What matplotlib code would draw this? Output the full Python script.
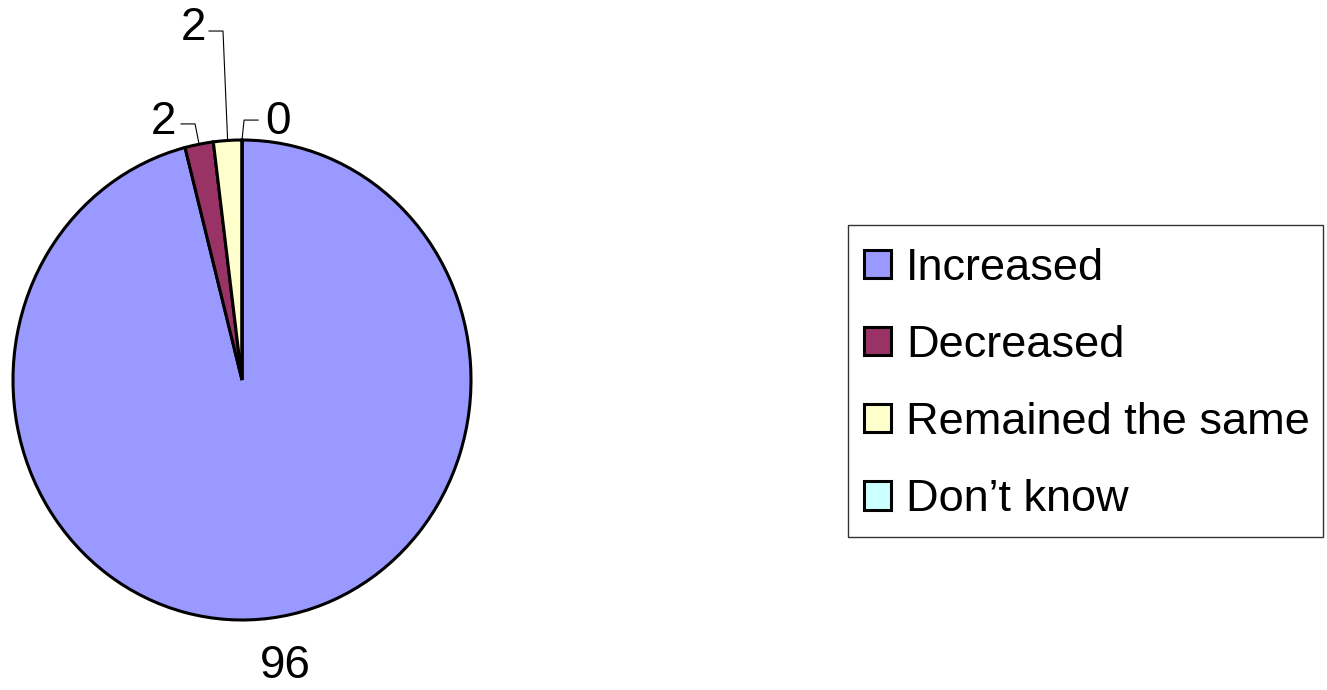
import matplotlib
matplotlib.use("Agg")
import numpy as np
import matplotlib.pyplot as plt
from matplotlib.patches import Rectangle

plt.rcParams['font.family'] = ['Liberation Sans', 'DejaVu Sans']

categories = ["Increased", "Decreased", "Remained the same", "Don\u2019t know"]
values = [96, 2, 2, 0]
colors = ['#9999FF', '#993366', '#FFFFCC', '#CCFFFF']

# label placement (data coords of pie, radius 1) -- layout only
label_pos = [(0.188, -1.19), (-0.341, 1.075), (-0.214, 1.467), (0.157, 1.075)]
# leader line elbows (None = no leader)
leader = [None,
          [(-0.266, 1.067), (-0.205, 1.067)],
          [(-0.144, 1.454), (-0.083, 1.454)],
          [(0.07, 1.083), (0.009, 1.083)]]

fig = plt.figure(figsize=(13.27, 6.90), dpi=100)
ax = fig.add_axes([13 / 1327, 70 / 690, 458 / 1327, 480 / 690])

wedges, _ = ax.pie(values, colors=colors, startangle=90, counterclock=False,
                   wedgeprops=dict(edgecolor='black', linewidth=2.2))
ax.set_aspect('auto')
ax.set_xlim(-1, 1)
ax.set_ylim(-1, 1)

for w, v, pos, ld in zip(wedges, values, label_pos, leader):
    ax.text(pos[0], pos[1], str(v), ha='center', va='center', fontsize=33,
            clip_on=False)
    if ld is not None:
        mid = np.deg2rad((w.theta1 + w.theta2) / 2)
        xs = [ld[0][0], ld[1][0], np.cos(mid)]
        ys = [ld[0][1], ld[1][1], np.sin(mid)]
        ax.plot(xs, ys, color='black', linewidth=0.8, clip_on=False)

# legend box drawn separately so the padding can differ per side
fig.patches.append(Rectangle((848 / 1327, 1 - 537 / 690), 475 / 1327, 312 / 690,
                             transform=fig.transFigure, facecolor='white',
                             edgecolor='#333333', linewidth=1.0, zorder=0))
leg = fig.legend(wedges, categories, loc='upper left',
                 bbox_to_anchor=(848 / 1327, 1 - 232 / 690),
                 fontsize=32.5, handlelength=0.6, handleheight=0.6,
                 handletextpad=0.33, labelspacing=0.8, borderpad=0.35,
                 borderaxespad=0, frameon=False)

fig.savefig("out.png", dpi=100)
